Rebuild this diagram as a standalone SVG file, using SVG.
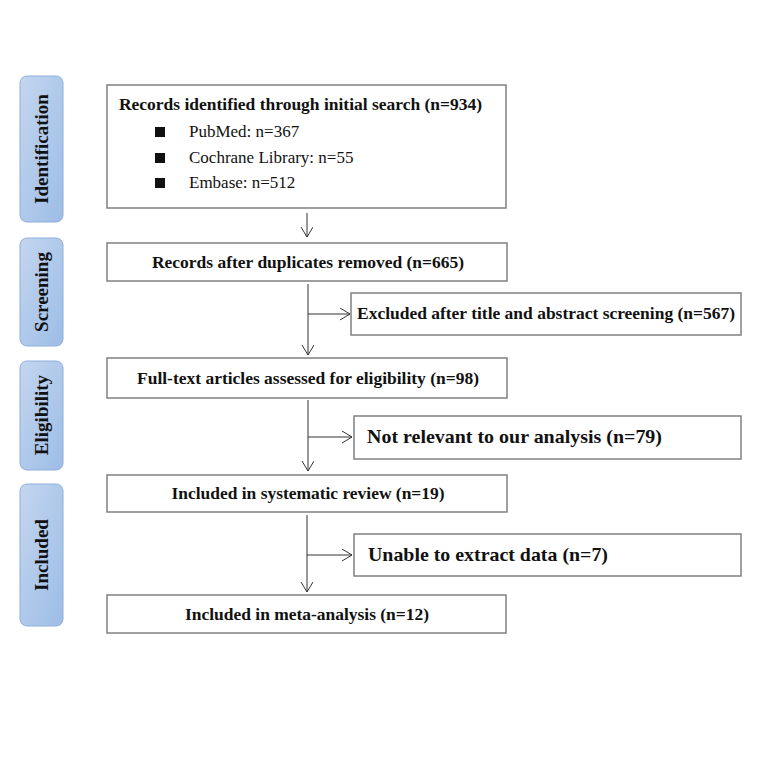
<svg xmlns="http://www.w3.org/2000/svg" width="758" height="759" viewBox="0 0 758 759">
<defs>
<linearGradient id="g" x1="0" y1="0" x2="1" y2="1">
<stop offset="0" stop-color="#c3d6ef"/>
<stop offset="1" stop-color="#9dbde6"/>
</linearGradient>
<marker id="ah" markerWidth="14" markerHeight="14" refX="10" refY="6" orient="auto" markerUnits="userSpaceOnUse">
<path d="M0,0 L10,6 L0,12" fill="none" stroke="#333" stroke-width="1"/>
</marker>
<style>
.stage{fill:url(#g);stroke:#8eaedb;stroke-width:1}
.st{font-family:"Liberation Serif",serif;font-weight:bold;font-size:19px;fill:#111;text-anchor:middle}
.box{fill:#fff;stroke:#808080;stroke-width:1.5}
.t{font-family:"Liberation Serif",serif;font-weight:bold;font-size:16px;fill:#111}
.tc{text-anchor:middle}
.big{font-size:19px}
.r{font-family:"Liberation Serif",serif;font-size:17px;fill:#111}
.ln{stroke:#333;stroke-width:1;fill:none}
</style>
</defs>
<rect width="758" height="759" fill="#fff"/>
<g id="stage-identification"><rect class="stage" x="20" y="76" width="43" height="146" rx="7"/><text class="st" transform="translate(48,149) rotate(-90)">Identification</text></g>
<g id="stage-screening"><rect class="stage" x="20" y="238" width="43" height="108" rx="7"/><text class="st" transform="translate(48,292) rotate(-90)">Screening</text></g>
<g id="stage-eligibility"><rect class="stage" x="20" y="361" width="43" height="109" rx="7"/><text class="st" transform="translate(48,415) rotate(-90)">Eligibility</text></g>
<g id="stage-included"><rect class="stage" x="20" y="484" width="43" height="142" rx="7"/><text class="st" transform="translate(48,555) rotate(-90)">Included</text></g>

<g id="n1"><rect class="box" x="107" y="85" width="399" height="123"/>
<text class="t" x="119" y="110" textLength="363" lengthAdjust="spacingAndGlyphs">Records identified through initial search (n=934)</text>
<rect x="155" y="127" width="10" height="10" fill="#111"/><text class="r" x="189" y="137">PubMed: n=367</text>
<rect x="155" y="153" width="10" height="10" fill="#111"/><text class="r" x="189" y="163">Cochrane Library: n=55</text>
<rect x="155" y="178" width="10" height="10" fill="#111"/><text class="r" x="189" y="188">Embase: n=512</text>
</g>
<g id="n2"><rect class="box" x="107" y="243" width="400" height="38"/><text class="t tc" x="308" y="268" textLength="312" lengthAdjust="spacingAndGlyphs">Records after duplicates removed (n=665)</text></g>
<g id="n3"><rect class="box" x="351" y="293" width="390" height="42"/><text class="t" x="357" y="319" textLength="378" lengthAdjust="spacingAndGlyphs">Excluded after title and abstract screening (n=567)</text></g>
<g id="n4"><rect class="box" x="107" y="358" width="400" height="40"/><text class="t tc" x="308" y="384" textLength="342" lengthAdjust="spacingAndGlyphs">Full-text articles assessed for eligibility (n=98)</text></g>
<g id="n5"><rect class="box" x="354" y="416" width="387" height="43"/><text class="t big" x="367" y="443" textLength="295" lengthAdjust="spacingAndGlyphs">Not relevant to our analysis (n=79)</text></g>
<g id="n6"><rect class="box" x="107" y="475" width="400" height="37"/><text class="t tc" x="308" y="499" textLength="273" lengthAdjust="spacingAndGlyphs">Included in systematic review (n=19)</text></g>
<g id="n7"><rect class="box" x="354" y="534" width="387" height="42"/><text class="t big" x="368" y="561" textLength="240" lengthAdjust="spacingAndGlyphs">Unable to extract data (n=7)</text></g>
<g id="n8"><rect class="box" x="107" y="595" width="399" height="38"/><text class="t tc" x="307" y="620" textLength="244" lengthAdjust="spacingAndGlyphs">Included in meta-analysis (n=12)</text></g>

<g id="connectors">
<line class="ln" x1="307" y1="213" x2="307" y2="237" marker-end="url(#ah)"/>
<line class="ln" x1="308" y1="284" x2="308" y2="355" marker-end="url(#ah)"/>
<line class="ln" x1="308" y1="314" x2="350" y2="314" marker-end="url(#ah)"/>
<line class="ln" x1="308" y1="400" x2="308" y2="471" marker-end="url(#ah)"/>
<line class="ln" x1="308" y1="437" x2="352" y2="437" marker-end="url(#ah)"/>
<line class="ln" x1="307" y1="515" x2="307" y2="592" marker-end="url(#ah)"/>
<line class="ln" x1="307" y1="555" x2="352" y2="555" marker-end="url(#ah)"/>
</g>
</svg>
